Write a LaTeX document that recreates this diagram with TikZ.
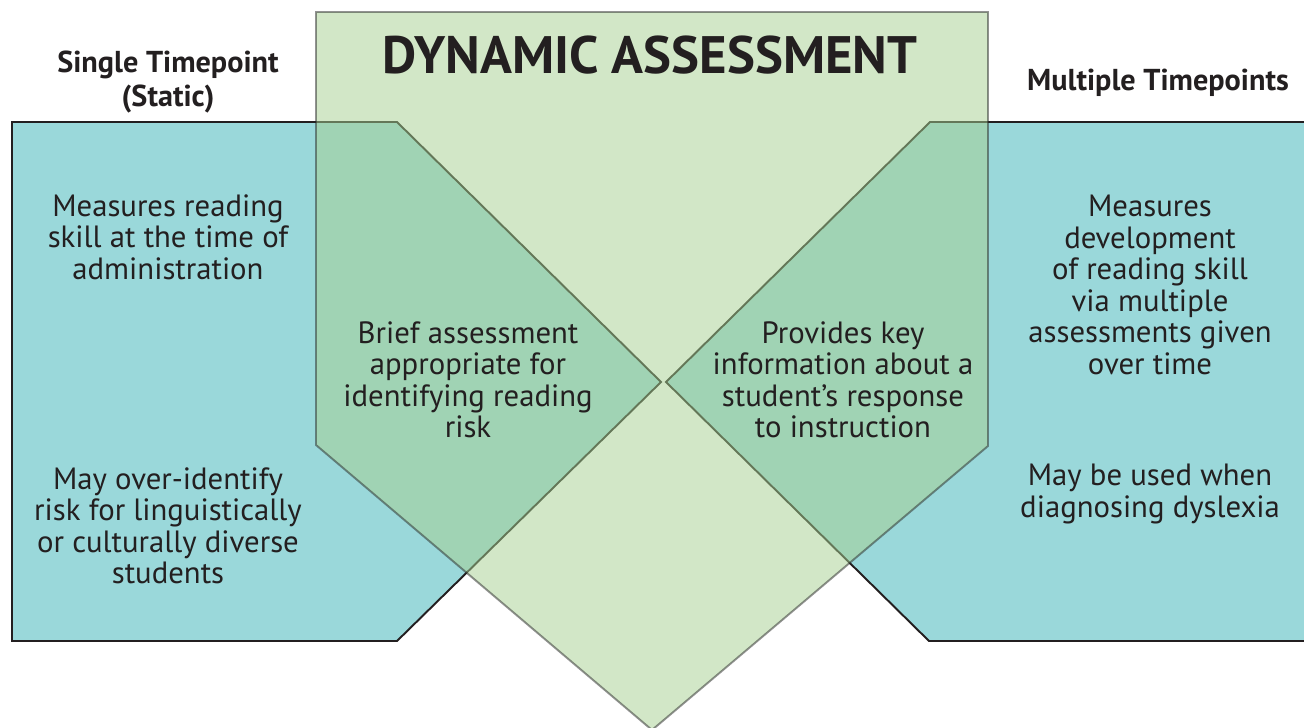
\documentclass[tikz,border=0pt]{standalone}
\usepackage{fontspec}
\setmainfont{PT Sans}
\usetikzlibrary{positioning}

\definecolor{boxblue}{RGB}{154,216,218}
\definecolor{boxgreen}{RGB}{166,208,144}
\definecolor{inkdark}{RGB}{35,31,32}

\begin{document}
\begin{tikzpicture}[x=0.02cm,y=-0.02cm,line join=miter,
  bluebox/.style={fill=boxblue,draw=inkdark,line width=1.1pt},
  greenbox/.style={fill=boxgreen,fill opacity=0.5,draw=black!85,draw opacity=0.5,line width=1.1pt},
  body text/.style={align=center,text=inkdark,font=\fontsize{17.5}{17.9}\selectfont},
  head text/.style={align=center,text=inkdark,font=\bfseries\fontsize{17.2}{19.8}\selectfont},
  title text/.style={text=inkdark,font=\bfseries\fontsize{30}{36}\selectfont}]

  \useasboundingbox (0,0) rectangle (1304,727);

  % the two timepoint shapes
  \draw[bluebox] (12,122) -- (397,122) -- (661,382) -- (397,641) -- (12,641) -- cycle;
  \draw[bluebox] (1330,122) -- (930,122) -- (666,382) -- (929,641) -- (1330,641);

  % dynamic assessment shape on top
  \draw[greenbox] (316,12) -- (988,12) -- (988,446) -- (652,730) -- (316,445) -- cycle;

  % headings
  \node[title text] (title) at (650,55) {DYNAMIC ASSESSMENT};
  \node[head text] (static) at (168,82) {Single Timepoint\\(Static)};
  \node[head text] (multi) at (1158,83) {Multiple Timepoints};

  % texts
  \node[body text] (s1) at (168,237) {Measures reading\\skill at the time of\\administration};
  \node[body text] (s2) at (168,526) {May over-identify\\risk for linguistically\\or culturally diverse\\students};
  \node[body text] (d1) at (468,380) {Brief assessment\\appropriate for\\identifying reading\\risk};
  \node[body text] (d2) at (843,380) {Provides key\\information about a\\student’s response\\to instruction};
  \node[body text] (m1) at (1150,285) {Measures\\development\\of reading skill\\via multiple\\assessments given\\over time};
  \node[body text] (m2) at (1150,494) {May be used when\\diagnosing dyslexia};
\end{tikzpicture}
\end{document}
